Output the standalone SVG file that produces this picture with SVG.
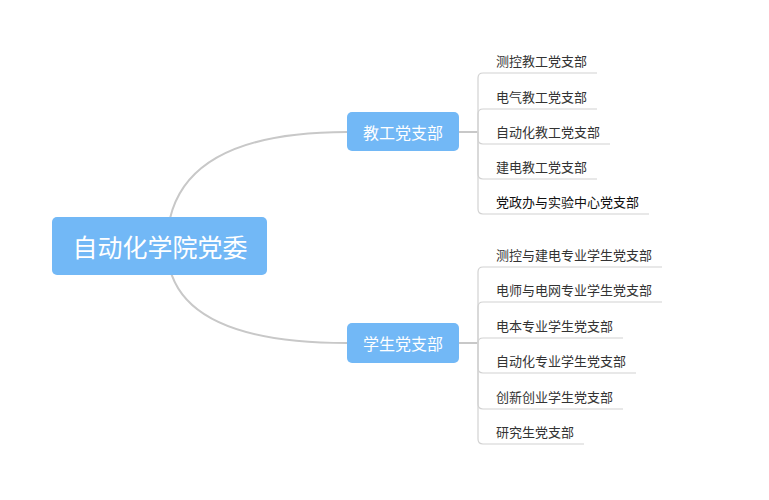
<svg xmlns="http://www.w3.org/2000/svg" width="769" height="500" viewBox="0 0 769 500">
<style>
.box{fill:#72b8f6;}
.t{font-family:"Noto Sans CJK SC","Noto Sans",sans-serif;}
.root{font-size:25px;fill:#fff;text-anchor:middle;dominant-baseline:central;}
.br{font-size:16px;fill:#fff;text-anchor:middle;dominant-baseline:central;}
.lf{font-size:13px;fill:#333;dominant-baseline:central;}
.main{fill:none;stroke:#c8c8c8;stroke-width:2;}
.sub{fill:none;stroke:#d2d2d2;stroke-width:1.2;}
</style>
<rect width="769" height="500" fill="#fff"/>
<g id="connectors">
<path class="main" d="M167 246 Q167 132 347 132"/>
<path class="main" d="M167 246 Q167 343 347 343"/>
<path class="main" d="M459 132 H478"/>
<path class="main" d="M459 343 H478"/>
<path class="sub" d="M478 132 V78 Q478 73 483 73 H597"/>
<path class="sub" d="M478 132 V114 Q478 109 483 109 H597"/>
<path class="sub" d="M478 132 V139 Q478 144 483 144 H610"/>
<path class="sub" d="M478 132 V174 Q478 179 483 179 H597"/>
<path class="sub" d="M478 132 V209 Q478 214 483 214 H649"/>
<path class="sub" d="M478 343 V272 Q478 267 483 267 H662"/>
<path class="sub" d="M478 343 V307 Q478 302 483 302 H662"/>
<path class="sub" d="M478 343 Q478 338 483 338 H623"/>
<path class="sub" d="M478 343 V368 Q478 373 483 373 H636"/>
<path class="sub" d="M478 343 V404 Q478 409 483 409 H623"/>
<path class="sub" d="M478 343 V439 Q478 444 483 444 H584"/>
</g>
<g id="root">
<rect class="box" x="52" y="217" width="215" height="58" rx="5"/>
<text class="t root" x="160" y="246">自动化学院党委</text>
</g>
<g id="teachers">
<rect class="box" x="347" y="112" width="112" height="39" rx="5"/>
<text class="t br" x="403" y="131.5">教工党支部</text>
</g>
<g id="students">
<rect class="box" x="347" y="323" width="112" height="40" rx="5"/>
<text class="t br" x="403" y="343">学生党支部</text>
</g>
<g id="t1"><text class="t lf" x="496" y="60">测控教工党支部</text></g>
<g id="t2"><text class="t lf" x="496" y="96">电气教工党支部</text></g>
<g id="t3"><text class="t lf" x="496" y="131">自动化教工党支部</text></g>
<g id="t4"><text class="t lf" x="496" y="166">建电教工党支部</text></g>
<g id="t5"><text class="t lf" x="496" y="201" style="fill:#111">党政办与实验中心党支部</text></g>
<g id="s1"><text class="t lf" x="496" y="254">测控与建电专业学生党支部</text></g>
<g id="s2"><text class="t lf" x="496" y="289">电师与电网专业学生党支部</text></g>
<g id="s3"><text class="t lf" x="496" y="325">电本专业学生党支部</text></g>
<g id="s4"><text class="t lf" x="496" y="360">自动化专业学生党支部</text></g>
<g id="s5"><text class="t lf" x="496" y="396">创新创业学生党支部</text></g>
<g id="s6"><text class="t lf" x="496" y="431">研究生党支部</text></g>
</svg>
